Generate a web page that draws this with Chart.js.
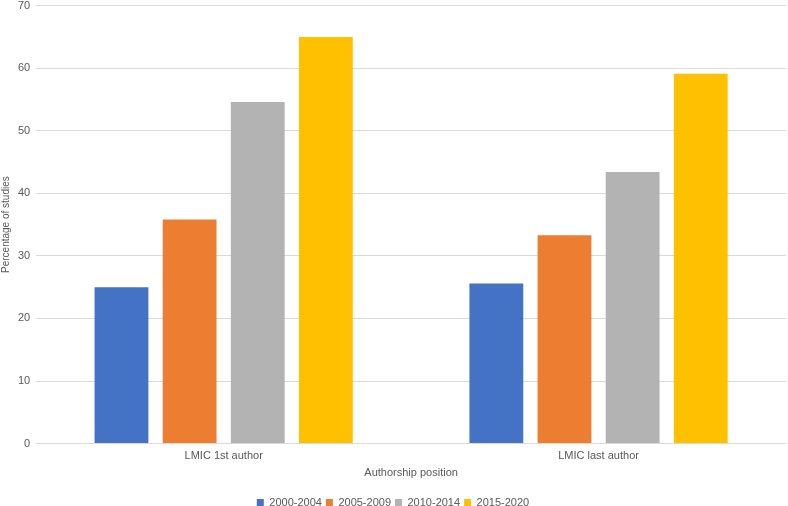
<!DOCTYPE html>
<html>
<head>
<meta charset="utf-8">
<script src="https://cdn.jsdelivr.net/npm/chart.js@4"></script>
<style>
  html, body { margin: 0; padding: 0; background: #fff; overflow: hidden; }
  #wrap { width: 788px; height: 521px; margin-top: -7px; }
</style>
</head>
<body>
<div id="wrap"><canvas id="chart"></canvas></div>
<script>
const categories = ["LMIC 1st author", "LMIC last author"];
const periods = ["2000-2004", "2005-2009", "2010-2014", "2015-2020"];
const colors = ["#4472c4", "#ed7d31", "#b3b3b3", "#ffc000"];
const s2000 = [25.0, 25.6];
const s2005 = [35.8, 33.3];
const s2010 = [54.6, 43.4];
const s2015 = [65.0, 59.1];
const yTicks = [0, 10, 20, 30, 40, 50, 60, 70];

const series = [s2000, s2005, s2010, s2015];
const font = "'Liberation Sans', Arial, sans-serif";

new Chart(document.getElementById("chart"), {
    type: "bar",
    data: {
        labels: categories,
        datasets: series.map((d, i) => ({
            label: periods[i],
            data: d,
            backgroundColor: colors[i],
            borderWidth: 0,
            categoryPercentage: 0.727,
            barPercentage: 0.79
        }))
    },
    options: {
        responsive: true,
        maintainAspectRatio: false,
        animation: false,
        layout: { padding: { left: 0, right: 2, top: 0, bottom: -4 } },
        plugins: {
            tooltip: { enabled: false },
            legend: {
                position: "bottom",
                labels: {
                    font: { family: font, size: 11 },
                    color: "#595959",
                    boxWidth: 7,
                    boxHeight: 7,
                    padding: 4
                }
            }
        },
        scales: {
            x: {
                grid: { display: false, drawTicks: false },
                border: { display: false },
                ticks: { font: { family: font, size: 11 }, color: "#595959", padding: 6 },
                title: { display: true, text: "Authorship position", font: { family: font, size: 11 }, color: "#595959", padding: { top: -2, bottom: 13 } }
            },
            y: {
                min: 0,
                max: 70,
                afterBuildTicks: axis => { axis.ticks = yTicks.map(v => ({ value: v })); },
                grid: { color: "#d9d9d9", drawTicks: false },
                border: { display: false },
                ticks: { font: { family: font, size: 11 }, color: "#595959", padding: 6 },
                title: { display: true, text: "Percentage of studies", font: { family: font, size: 10 }, color: "#595959", padding: 0 }
            }
        }
    }
});
</script>
</body>
</html>
